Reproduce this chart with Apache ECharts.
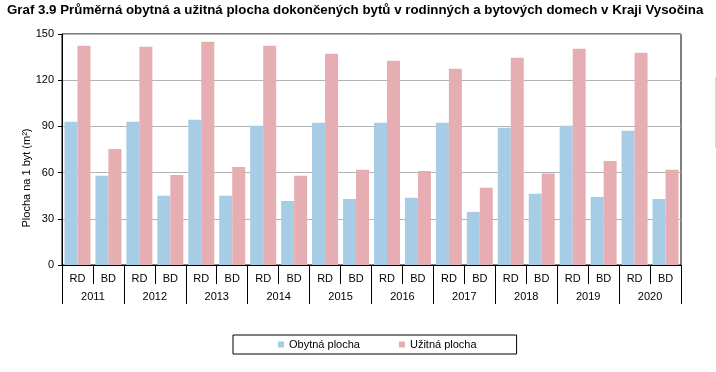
<!DOCTYPE html>
<html>
<head>
<meta charset="utf-8">
<script src="https://cdn.jsdelivr.net/npm/echarts@6/dist/echarts.min.js"></script>
<style>html,body{margin:0;padding:0;background:#fff}#c{width:716px;height:372px}</style>
</head>
<body>
<div id="c"></div>
<script>
var years = ['2011','2012','2013','2014','2015','2016','2017','2018','2019','2020'];
var types = ['RD','BD'];
var obytna = [93.0,57.9, 93.0,44.9, 94.3,44.9, 90.4,41.6, 92.3,42.9, 92.3,43.6, 92.3,34.5, 89.1,46.2, 90.4,44.2, 87.1,42.9];
var uzitna = [142.4,75.4, 141.8,58.5, 145.0,63.7, 142.4,57.9, 137.2,61.8, 132.7,61.1, 127.5,50.1, 134.6,59.4, 140.5,67.6, 137.9,61.8];
var yTicks = [0,30,60,90,120,150];

var cats = [];
years.forEach(function(y){ types.forEach(function(t){ cats.push(t); }); });

var font = 'Liberation Sans, Arial, sans-serif';
var chart = echarts.init(document.getElementById('c'), null, {renderer:'canvas'});
chart.setOption({
  animation:false,
  backgroundColor:'#fff',
  title:{
    text:'Graf 3.9 Průměrná obytná a užitná plocha dokončených bytů v rodinných a bytových domech v Kraji Vysočina',
    left:7, top:4, padding:0,
    textStyle:{fontFamily:font, fontSize:13.3, fontWeight:'bold', color:'#000'}
  },
  grid:{left:62, right:35, top:34, bottom:107, show:true, borderColor:'#000', borderWidth:1, backgroundColor:'transparent', containLabel:false},
  legend:{
    left:233, top:335,
    data:['Obytná plocha','Užitná plocha'],
    icon:'rect', itemWidth:6, itemHeight:6, itemGap:39,
    borderColor:'#000', borderWidth:1, padding:[4,40,4,45],
    textStyle:{fontFamily:font, fontSize:11, color:'#000'}
  },
  xAxis:[{
    type:'category', data:cats, position:'bottom',
    axisLine:{show:true, lineStyle:{color:'#000', width:1}},
    axisTick:{show:true, interval:0, length:19, lineStyle:{color:'#000'}},
    axisLabel:{interval:0, margin:8, fontFamily:font, fontSize:11, color:'#000'}
  },{
    type:'category', data:years, position:'bottom',
    axisLine:{show:false},
    axisTick:{show:true, interval:0, length:39, lineStyle:{color:'#000'}},
    axisLabel:{interval:0, margin:26, fontFamily:font, fontSize:11, color:'#000'}
  }],
  yAxis:{
    type:'value', min:yTicks[0], max:yTicks[yTicks.length-1], interval:30,
    axisLine:{show:true, lineStyle:{color:'#000'}},
    axisTick:{show:true, length:4, lineStyle:{color:'#000'}},
    axisLabel:{margin:8, fontFamily:font, fontSize:11, color:'#000'},
    splitLine:{show:true, lineStyle:{color:'#b4b4b4', width:1}}
  },
  series:[
    {name:'Obytná plocha', type:'bar', data:obytna, xAxisIndex:0, barGap:'0%', barCategoryGap:'16%', itemStyle:{color:'#a6cce6'}},
    {name:'Užitná plocha', type:'bar', data:uzitna, xAxisIndex:0, barGap:'0%', barCategoryGap:'16%', itemStyle:{color:'#e6aeb2'}}
  ],
  graphic:[
    {type:'text', x:27, y:178, rotation:Math.PI/2, style:{text:'Plocha na 1 byt (m²)', fontFamily:font, fontSize:11, fill:'#000', align:'center', verticalAlign:'middle'}},
    {type:'line', shape:{x1:715.5, y1:77, x2:715.5, y2:148}, style:{stroke:'#f5f000', lineWidth:1}}
  ]
});
</script>
</body>
</html>
